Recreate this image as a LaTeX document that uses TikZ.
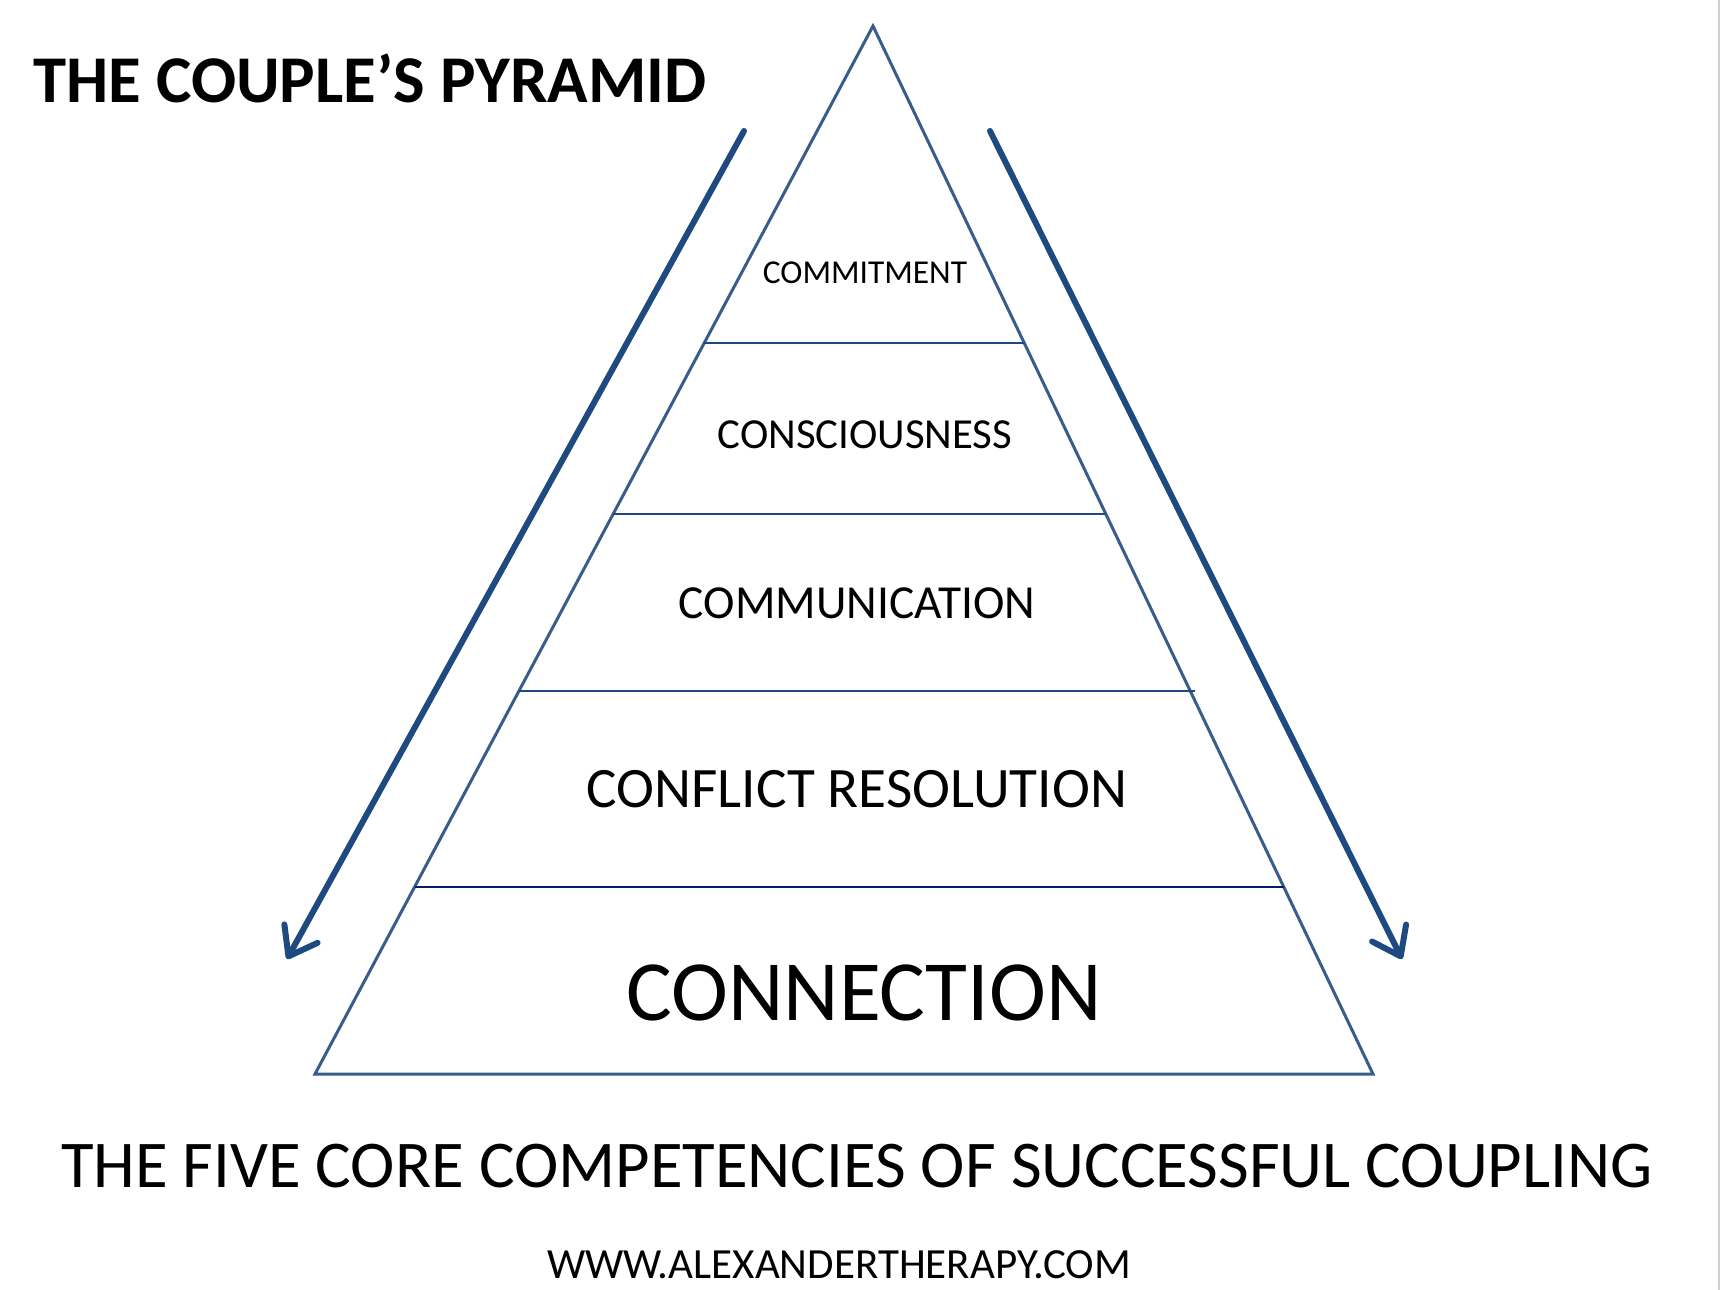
\documentclass[tikz,border=0pt]{standalone}
\usepackage{fontspec}
\setmainfont{Carlito}
\usetikzlibrary{arrows.meta,calc}
\definecolor{edgeblue}{RGB}{56,93,138}
\definecolor{layerblue}{RGB}{31,73,125}
\definecolor{layernavy}{RGB}{0,32,96}
\definecolor{arrowblue}{RGB}{30,74,128}
\begin{document}
\begin{tikzpicture}[x=0.5pt,y=-0.5pt,
pyramid/.style = {draw=edgeblue, line width=1.5pt, line join=miter},
layer/.style = {draw=layerblue, line width=1pt},
flow/.style = {draw=arrowblue, line width=3pt, line cap=round,
	-{Straight Barb[length=13pt,width=19pt,line cap=round,line join=round]}},
tier/.style = {anchor=base, inner sep=0pt}]

\useasboundingbox (0,0) rectangle (1720,1290);
\fill[white] (0,0) rectangle (1720,1290);
\draw[black!18, line width=1pt] (1718.5,0) -- (1718.5,1290);

\coordinate (apex) at (873,26);
\coordinate (baseL) at (315,1074);
\coordinate (baseR) at (1373,1074);
\draw[pyramid] (apex) -- (baseR) -- (baseL) -- cycle;

\draw[layer] ($(apex)!0.3025!(baseL)$) -- ($(apex)!0.3025!(baseR)$);
\draw[layer] ($(apex)!0.4656!(baseL)$) -- ($(apex)!0.4656!(baseR)$);
\draw[layer] ($(apex)!0.6345!(baseL)$) -- ($(apex)!0.6345!(baseR)+(5,0)$);
\draw[layer, draw=layernavy] ($(apex)!0.8216!(baseL)$) -- ($(apex)!0.8216!(baseR)$);

\coordinate (leftTop) at (744,131);
\coordinate (leftTip) at (287,959);
\coordinate (rightTop) at (990,131);
\coordinate (rightTip) at (1402,959);
\draw[flow] (leftTop) -- (leftTip);
\draw[flow] (rightTop) -- (rightTip);

\node (title) [anchor=base west, inner sep=0pt, font=\fontsize{33.4pt}{40pt}\selectfont\bfseries] at (33,102) {THE COUPLE’S PYRAMID};

\node (commitment) [tier, font=\fontsize{16.7pt}{20pt}\selectfont] at (865,283) {COMMITMENT};
\node (consciousness) [tier, font=\fontsize{21.4pt}{25pt}\selectfont] at (865,448) {CONSCIOUSNESS};
\node (communication) [tier, font=\fontsize{23.7pt}{28pt}\selectfont] at (857,618) {COMMUNICATION};
\node (conflict) [tier, font=\fontsize{28.6pt}{34pt}\selectfont] at (857,807) {CONFLICT RESOLUTION};
\node (connection) [tier, font=\fontsize{42.9pt}{50pt}\selectfont] at (864,1020) {CONNECTION};

\node (subtitle) [tier, font=\fontsize{33.4pt}{40pt}\selectfont] at (857,1187) {THE FIVE CORE COMPETENCIES OF SUCCESSFUL COUPLING};
\node (website) [tier, font=\fontsize{21.5pt}{26pt}\selectfont] at (839,1278) {WWW.ALEXANDERTHERAPY.COM};
\end{tikzpicture}
\end{document}
